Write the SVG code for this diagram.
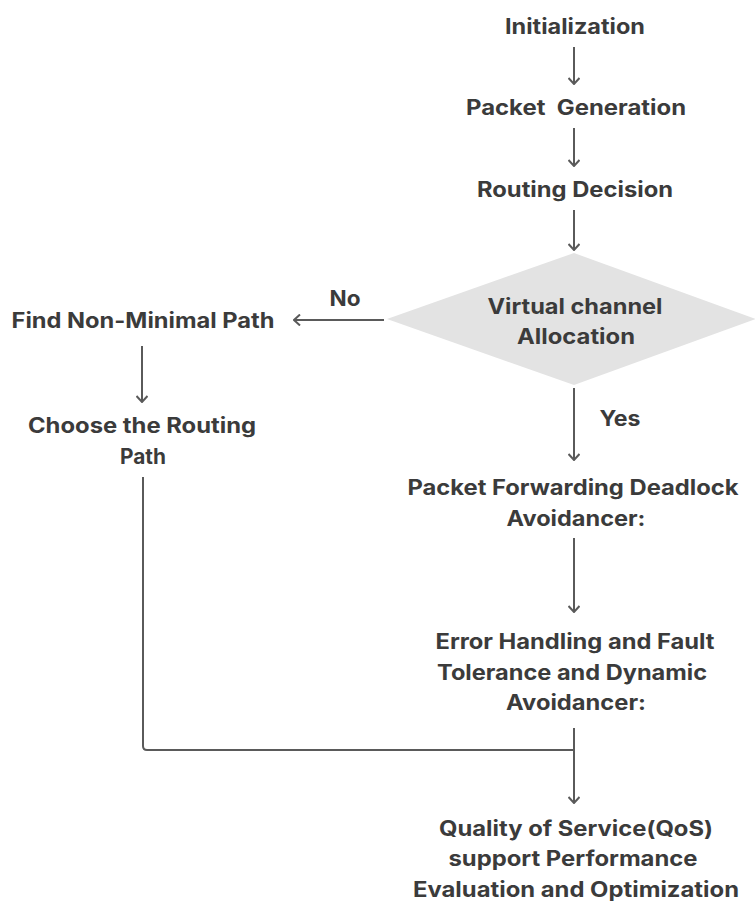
<svg xmlns="http://www.w3.org/2000/svg" width="755" height="902" viewBox="0 0 755 902">
<defs>
<style>
text{font-family:Inter,"Liberation Sans",sans-serif;font-weight:700;font-size:21px;fill:#3b3b3b;text-anchor:middle}
.ln{stroke:#5a5a5a;stroke-width:2;fill:none}
</style>
<marker id="ah" viewBox="0 0 12 12" refX="11" refY="6" markerWidth="12" markerHeight="12" markerUnits="userSpaceOnUse" orient="auto">
<path d="M5,0.5 L11,6 L5,11.5" fill="none" stroke="#5a5a5a" stroke-width="2"/>
</marker>
</defs>
<rect width="755" height="902" fill="#fff"/>
<g id="n1"><text x="575" y="34" textLength="140" lengthAdjust="spacingAndGlyphs">Initialization</text></g>
<g id="n2"><text x="576" y="115" xml:space="preserve" textLength="220" lengthAdjust="spacingAndGlyphs">Packet  Generation</text></g>
<g id="n3"><text x="575" y="197" textLength="196" lengthAdjust="spacingAndGlyphs">Routing Decision</text></g>
<g id="n4"><path d="M574,253 L756,319 L574,385 L387,319 Z" fill="#e3e3e3"/>
<text x="575" y="314" textLength="175" lengthAdjust="spacingAndGlyphs">Virtual channel</text><text x="576" y="344" textLength="118" lengthAdjust="spacingAndGlyphs">Allocation</text></g>
<g id="n5"><text x="143" y="328" textLength="263" lengthAdjust="spacingAndGlyphs">Find Non-Minimal Path</text></g>
<g id="n6"><text x="142" y="433" textLength="228" lengthAdjust="spacingAndGlyphs">Choose the Routing</text><text x="143" y="464" textLength="46" lengthAdjust="spacingAndGlyphs">Path</text></g>
<g id="n7"><text x="573" y="495" textLength="331" lengthAdjust="spacingAndGlyphs">Packet Forwarding Deadlock</text><text x="576" y="526" textLength="139" lengthAdjust="spacingAndGlyphs">Avoidancer:</text></g>
<g id="n8"><text x="575" y="649" textLength="279" lengthAdjust="spacingAndGlyphs">Error Handling and Fault</text><text x="572" y="680" textLength="270" lengthAdjust="spacingAndGlyphs">Tolerance and Dynamic</text><text x="576" y="710" textLength="140" lengthAdjust="spacingAndGlyphs">Avoidancer:</text></g>
<g id="n9"><text x="576" y="836" textLength="274" lengthAdjust="spacingAndGlyphs">Quality of Service(QoS)</text><text x="573" y="866" textLength="249" lengthAdjust="spacingAndGlyphs">support Performance</text><text x="576" y="897" textLength="326" lengthAdjust="spacingAndGlyphs">Evaluation and Optimization</text></g>
<g id="connectors">
<line class="ln" x1="574" y1="47" x2="574" y2="84" marker-end="url(#ah)"/>
<line class="ln" x1="574" y1="128" x2="574" y2="166" marker-end="url(#ah)"/>
<line class="ln" x1="574" y1="210" x2="574" y2="250" marker-end="url(#ah)"/>
<line class="ln" x1="384" y1="320" x2="294" y2="320" marker-end="url(#ah)"/>
<line class="ln" x1="142" y1="346" x2="142" y2="402" marker-end="url(#ah)"/>
<line class="ln" x1="574" y1="388" x2="574" y2="460" marker-end="url(#ah)"/>
<line class="ln" x1="574" y1="538" x2="574" y2="612" marker-end="url(#ah)"/>
<path class="ln" d="M143,477 L143,746 Q143,750 147,750 L574,750"/>
<line class="ln" x1="574" y1="728" x2="574" y2="803" marker-end="url(#ah)"/>
<text x="345" y="306" textLength="31" lengthAdjust="spacingAndGlyphs">No</text>
<text x="620" y="426" textLength="41" lengthAdjust="spacingAndGlyphs">Yes</text>
</g>
</svg>
